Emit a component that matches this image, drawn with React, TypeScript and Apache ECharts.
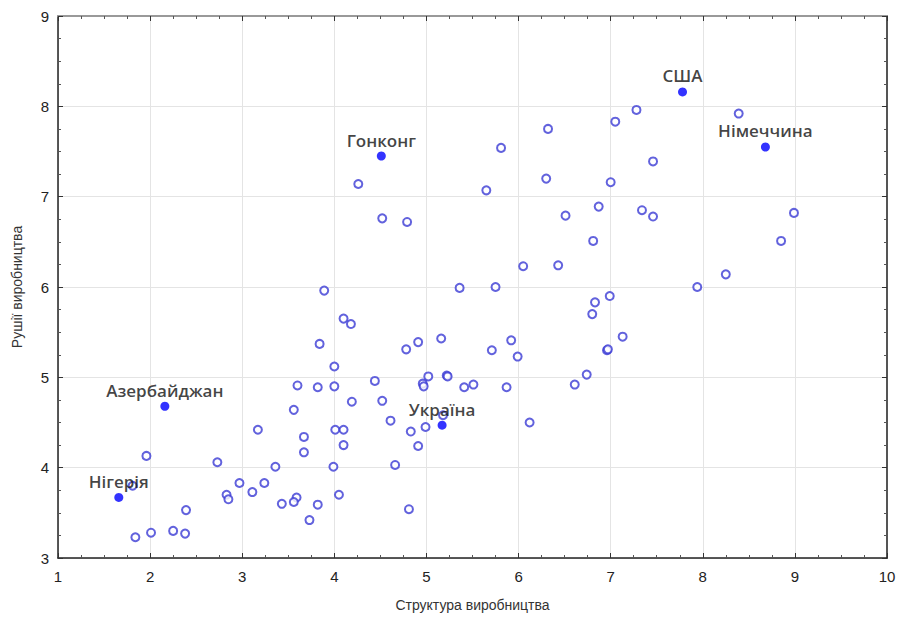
import React, { useEffect, useRef } from "react";
import * as echarts from "echarts";

const xTicks = [1, 10];
const yTicks = [3, 9];

const plainX = [4.26, 4.52, 4.79, 3.89, 5.36, 7.28, 8.39, 7.05, 6.32, 5.81, 7.46, 6.30, 7.00, 5.65, 6.87, 6.51, 7.34, 7.46, 8.99, 6.81, 8.85, 6.05, 6.43, 8.25, 5.75, 7.94, 6.99, 6.83, 6.80, 5.92, 7.13, 5.71, 5.99, 6.96, 6.97, 6.74, 6.61, 5.51, 5.87, 6.12, 4.10, 4.18, 3.84, 5.16, 4.91, 4.78, 4.00, 5.02, 5.22, 5.23, 4.44, 4.96, 4.97, 3.60, 3.82, 4.00, 5.41, 4.52, 4.19, 3.56, 5.18, 4.61, 3.17, 4.01, 4.10, 4.83, 4.99, 3.67, 4.10, 4.91, 3.67, 1.96, 2.73, 3.36, 3.99, 4.66, 1.81, 2.97, 3.24, 3.11, 2.83, 2.85, 3.59, 3.56, 3.43, 3.82, 4.05, 4.81, 3.73, 2.39, 2.25, 2.38, 2.01, 1.84];
const plainY = [7.14, 6.76, 6.72, 5.96, 5.99, 7.96, 7.92, 7.83, 7.75, 7.54, 7.39, 7.20, 7.16, 7.07, 6.89, 6.79, 6.85, 6.78, 6.82, 6.51, 6.51, 6.23, 6.24, 6.14, 6.00, 6.00, 5.90, 5.83, 5.70, 5.41, 5.45, 5.30, 5.23, 5.30, 5.31, 5.03, 4.92, 4.92, 4.89, 4.50, 5.65, 5.59, 5.37, 5.43, 5.39, 5.31, 5.12, 5.01, 5.02, 5.01, 4.96, 4.93, 4.90, 4.91, 4.89, 4.90, 4.89, 4.74, 4.73, 4.64, 4.58, 4.52, 4.42, 4.42, 4.42, 4.40, 4.45, 4.34, 4.25, 4.24, 4.17, 4.13, 4.06, 4.01, 4.01, 4.03, 3.80, 3.83, 3.83, 3.73, 3.70, 3.65, 3.67, 3.62, 3.60, 3.59, 3.70, 3.54, 3.42, 3.53, 3.30, 3.27, 3.28, 3.23];

const countryNames = ["Гонконг", "США", "Німеччина", "Азербайджан", "Україна", "Нігерія"];
const countryX = [4.51, 7.78, 8.68, 2.16, 5.17, 1.66];
const countryY = [7.45, 8.16, 7.55, 4.68, 4.47, 3.67];

const xName = "Структура виробництва";
const yName = "Рушії виробництва";

export default function App() {
  const ref = useRef<HTMLDivElement>(null);
  useEffect(() => {
    if (!ref.current) return;
    const chart = echarts.init(ref.current, undefined, { renderer: "svg" });
    const labelFont = "'Liberation Sans Narrow', 'Liberation Sans', Arial, sans-serif";
    const baseAxis = {
      type: "value" as const,
      interval: 1,
      axisTick: { show: true, inside: true, length: 5, lineStyle: { color: "#333" } },
      minorTick: { show: true, splitNumber: 4, length: 3, lineStyle: { color: "#555" } },
      splitLine: { show: false },
    };
    chart.setOption({
      animation: false,
      backgroundColor: "#ffffff",
      grid: { left: 58, top: 16, right: 16, bottom: 61, containLabel: false },
      xAxis: [
        {
          ...baseAxis,
          min: xTicks[0],
          max: xTicks[1],
          position: "bottom",
          axisLine: { show: true, onZero: false, lineStyle: { color: "#222", width: 1.5 } },
          splitLine: { show: true, lineStyle: { color: "#e4e4e4", width: 1 } },
          axisLabel: { fontSize: 15, color: "#222", margin: 11, fontFamily: labelFont },
          name: xName,
          nameLocation: "middle",
          nameGap: 40,
          nameTextStyle: { fontSize: 14, color: "#333", fontFamily: labelFont },
        },
        {
          ...baseAxis,
          min: xTicks[0],
          max: xTicks[1],
          position: "top",
          axisLine: { show: true, onZero: false, lineStyle: { color: "#999", width: 2 } },
          axisLabel: { show: false },
        },
      ],
      yAxis: [
        {
          ...baseAxis,
          min: yTicks[0],
          max: yTicks[1],
          position: "left",
          axisLine: { show: true, onZero: false, lineStyle: { color: "#222", width: 1.5 } },
          splitLine: { show: true, lineStyle: { color: "#e4e4e4", width: 1 } },
          axisLabel: { fontSize: 15, color: "#222", margin: 9, fontFamily: labelFont },
          name: yName,
          nameLocation: "middle",
          nameGap: 34,
          nameTextStyle: { fontSize: 14, color: "#333", fontFamily: labelFont },
        },
        {
          ...baseAxis,
          min: yTicks[0],
          max: yTicks[1],
          position: "right",
          axisLine: { show: true, onZero: false, lineStyle: { color: "#555", width: 2 } },
          axisLabel: { show: false },
        },
      ],
      series: [
        {
          type: "scatter",
          symbol: "circle",
          symbolSize: 8,
          itemStyle: { color: "#ffffff", borderColor: "#3b3bd4", borderWidth: 2 },
          data: plainX.map((x, i) => [x, plainY[i]]),
          z: 2,
        },
        {
          type: "scatter",
          symbol: "circle",
          symbolSize: 9,
          itemStyle: { color: "#0000ff" },
          data: countryX.map((x, i) => ({ value: [x, countryY[i]], name: countryNames[i] })),
          label: {
            show: true,
            position: "top",
            distance: 3,
            formatter: (p: any) => p.name,
            fontSize: 17,
            fontWeight: 600,
            color: "#111111",
            fontFamily: "'Open Sans', 'Noto Sans', sans-serif",
          },
          z: 3,
        },
      ],
    });
    return () => chart.dispose();
  }, []);
  return (
    <div
      ref={ref}
      style={{ position: "absolute", left: 0, top: 0, width: 903, height: 619 }}
    />
  );
}
